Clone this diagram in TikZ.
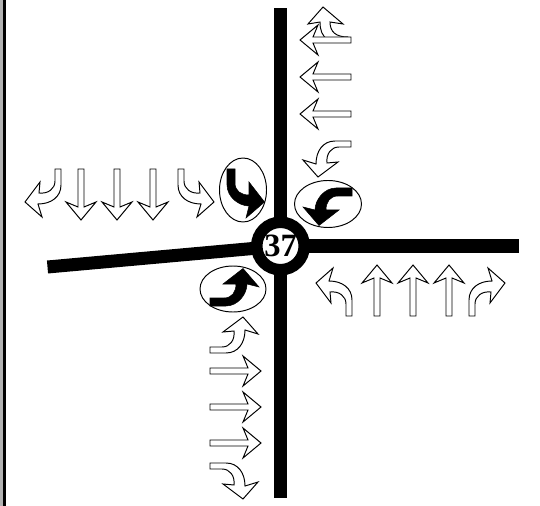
\documentclass[tikz,border=0pt]{standalone}
\usepackage{fontspec}
\setmainfont{Liberation Serif}
\tikzset{
    road/.style={line width=13*0.02cm},
    lanearrow/.style={draw=black, fill=white, line width=0.55pt, line join=miter},
    signalarrow/.style={draw=black, fill=black, line width=0.3pt},
    signalring/.style={draw=black, line width=0.55pt},
    pics/straightlane/.style={code={
        \draw[lanearrow] (3,0) -- (3,-38) -- (15,-33) -- (0,-51) -- (-15,-33) -- (-3,-38) -- (-3,0) -- cycle;
    }},
    pics/leftlane/.style={code={
        \draw[lanearrow] (3,0) -- (3,-16) .. controls (3,-28) and (-7,-35) .. (-20,-35) -- (-16,-48) -- (-33,-33)
            -- (-18,-13) -- (-19,-24) .. controls (-10,-25) and (-3,-20) .. (-3,-12) -- (-3,0) -- cycle;
    }},
    pics/rightlane/.style={code={
        \draw[lanearrow] (-3,0) -- (-3,-16) .. controls (-3,-28) and (7,-35) .. (20,-35) -- (16,-48) -- (33,-33)
            -- (18,-13) -- (19,-24) .. controls (10,-25) and (3,-20) .. (3,-12) -- (3,0) -- cycle;
    }},
    pics/signalturn/.style={code={
        \draw[signalarrow] (4,0) -- (4,-16) .. controls (4,-28) and (-8,-37) .. (-18,-37) -- (-15,-49) -- (-33.5,-33)
            -- (-18,-13) -- (-18,-26) .. controls (-10,-26) and (-4,-22) .. (-4,-14) -- (-4,0) -- cycle;
    }},
}
\begin{document}
\begin{tikzpicture}[x=0.02cm, y=-0.02cm]
    \useasboundingbox (0,0) rectangle (540,506);

    % Frame edge on the left
    \fill[black!30] (0,0) rectangle (3,506);
    \fill[black]    (3,0) rectangle (6,506);

    % Roads
    \coordinate (hubcentre) at (280.5,246);
    \coordinate (northend)  at (280.5,8);
    \coordinate (southend)  at (280.5,498);
    \coordinate (eastend)   at (519,246);
    \coordinate (westend)   at (47.5,267);
    \draw[road] (hubcentre) -- (northend);
    \draw[road] (hubcentre) -- (southend);
    \draw[road] (hubcentre) -- (eastend);
    \draw[road] (hubcentre) -- (westend);

    % Junction number
    \node[circle, draw=black, fill=white, line width=11.5*0.02cm, minimum size=47.5*0.02cm, inner sep=0pt,
          font=\fontsize{18.5}{20}\selectfont\bfseries] (hub) at (hubcentre) {37};

    % Signal phases
    \draw[signalring] (243,190) ellipse (23.5 and 32);
    \draw[signalring] (328,204) ellipse (33.5 and 23.5);
    \draw[signalring] (233,289) ellipse (33 and 23);
    \pic[rotate=180] at (231,169) {signalturn};
    \pic[rotate=90]  at (352,192) {signalturn};
    \pic[rotate=-90] at (210,302) {signalturn};

    % North arm
    \draw[lanearrow] (348,37) .. controls (336,37) and (330,32) .. (330,22) -- (343,24) -- (323,7) -- (308,24)
        -- (320,22) .. controls (320,30) and (322,36) .. (328,40) -- (348,40) -- cycle;
    \pic[rotate=90] at (351,40)  {straightlane};
    \pic[rotate=90] at (351,77)  {straightlane};
    \pic[rotate=90] at (351,114) {straightlane};
    \pic[rotate=90] at (351,144) {leftlane};

    % West arm
    \pic[rotate=180] at (58,169)  {rightlane};
    \pic[rotate=180] at (81,169)  {straightlane};
    \pic[rotate=180] at (117,169) {straightlane};
    \pic[rotate=180] at (153,169) {straightlane};
    \pic[rotate=180] at (181,169) {leftlane};

    % South arm
    \pic[rotate=-90] at (210,350) {leftlane};
    \pic[rotate=-90] at (210,371) {straightlane};
    \pic[rotate=-90] at (210,407) {straightlane};
    \pic[rotate=-90] at (210,443) {straightlane};
    \pic[rotate=-90] at (210,466) {rightlane};

    % East arm
    \pic at (349,316) {leftlane};
    \pic at (377,316) {straightlane};
    \pic at (413,316) {straightlane};
    \pic at (449,316) {straightlane};
    \pic at (472,316) {rightlane};
\end{tikzpicture}
\end{document}
